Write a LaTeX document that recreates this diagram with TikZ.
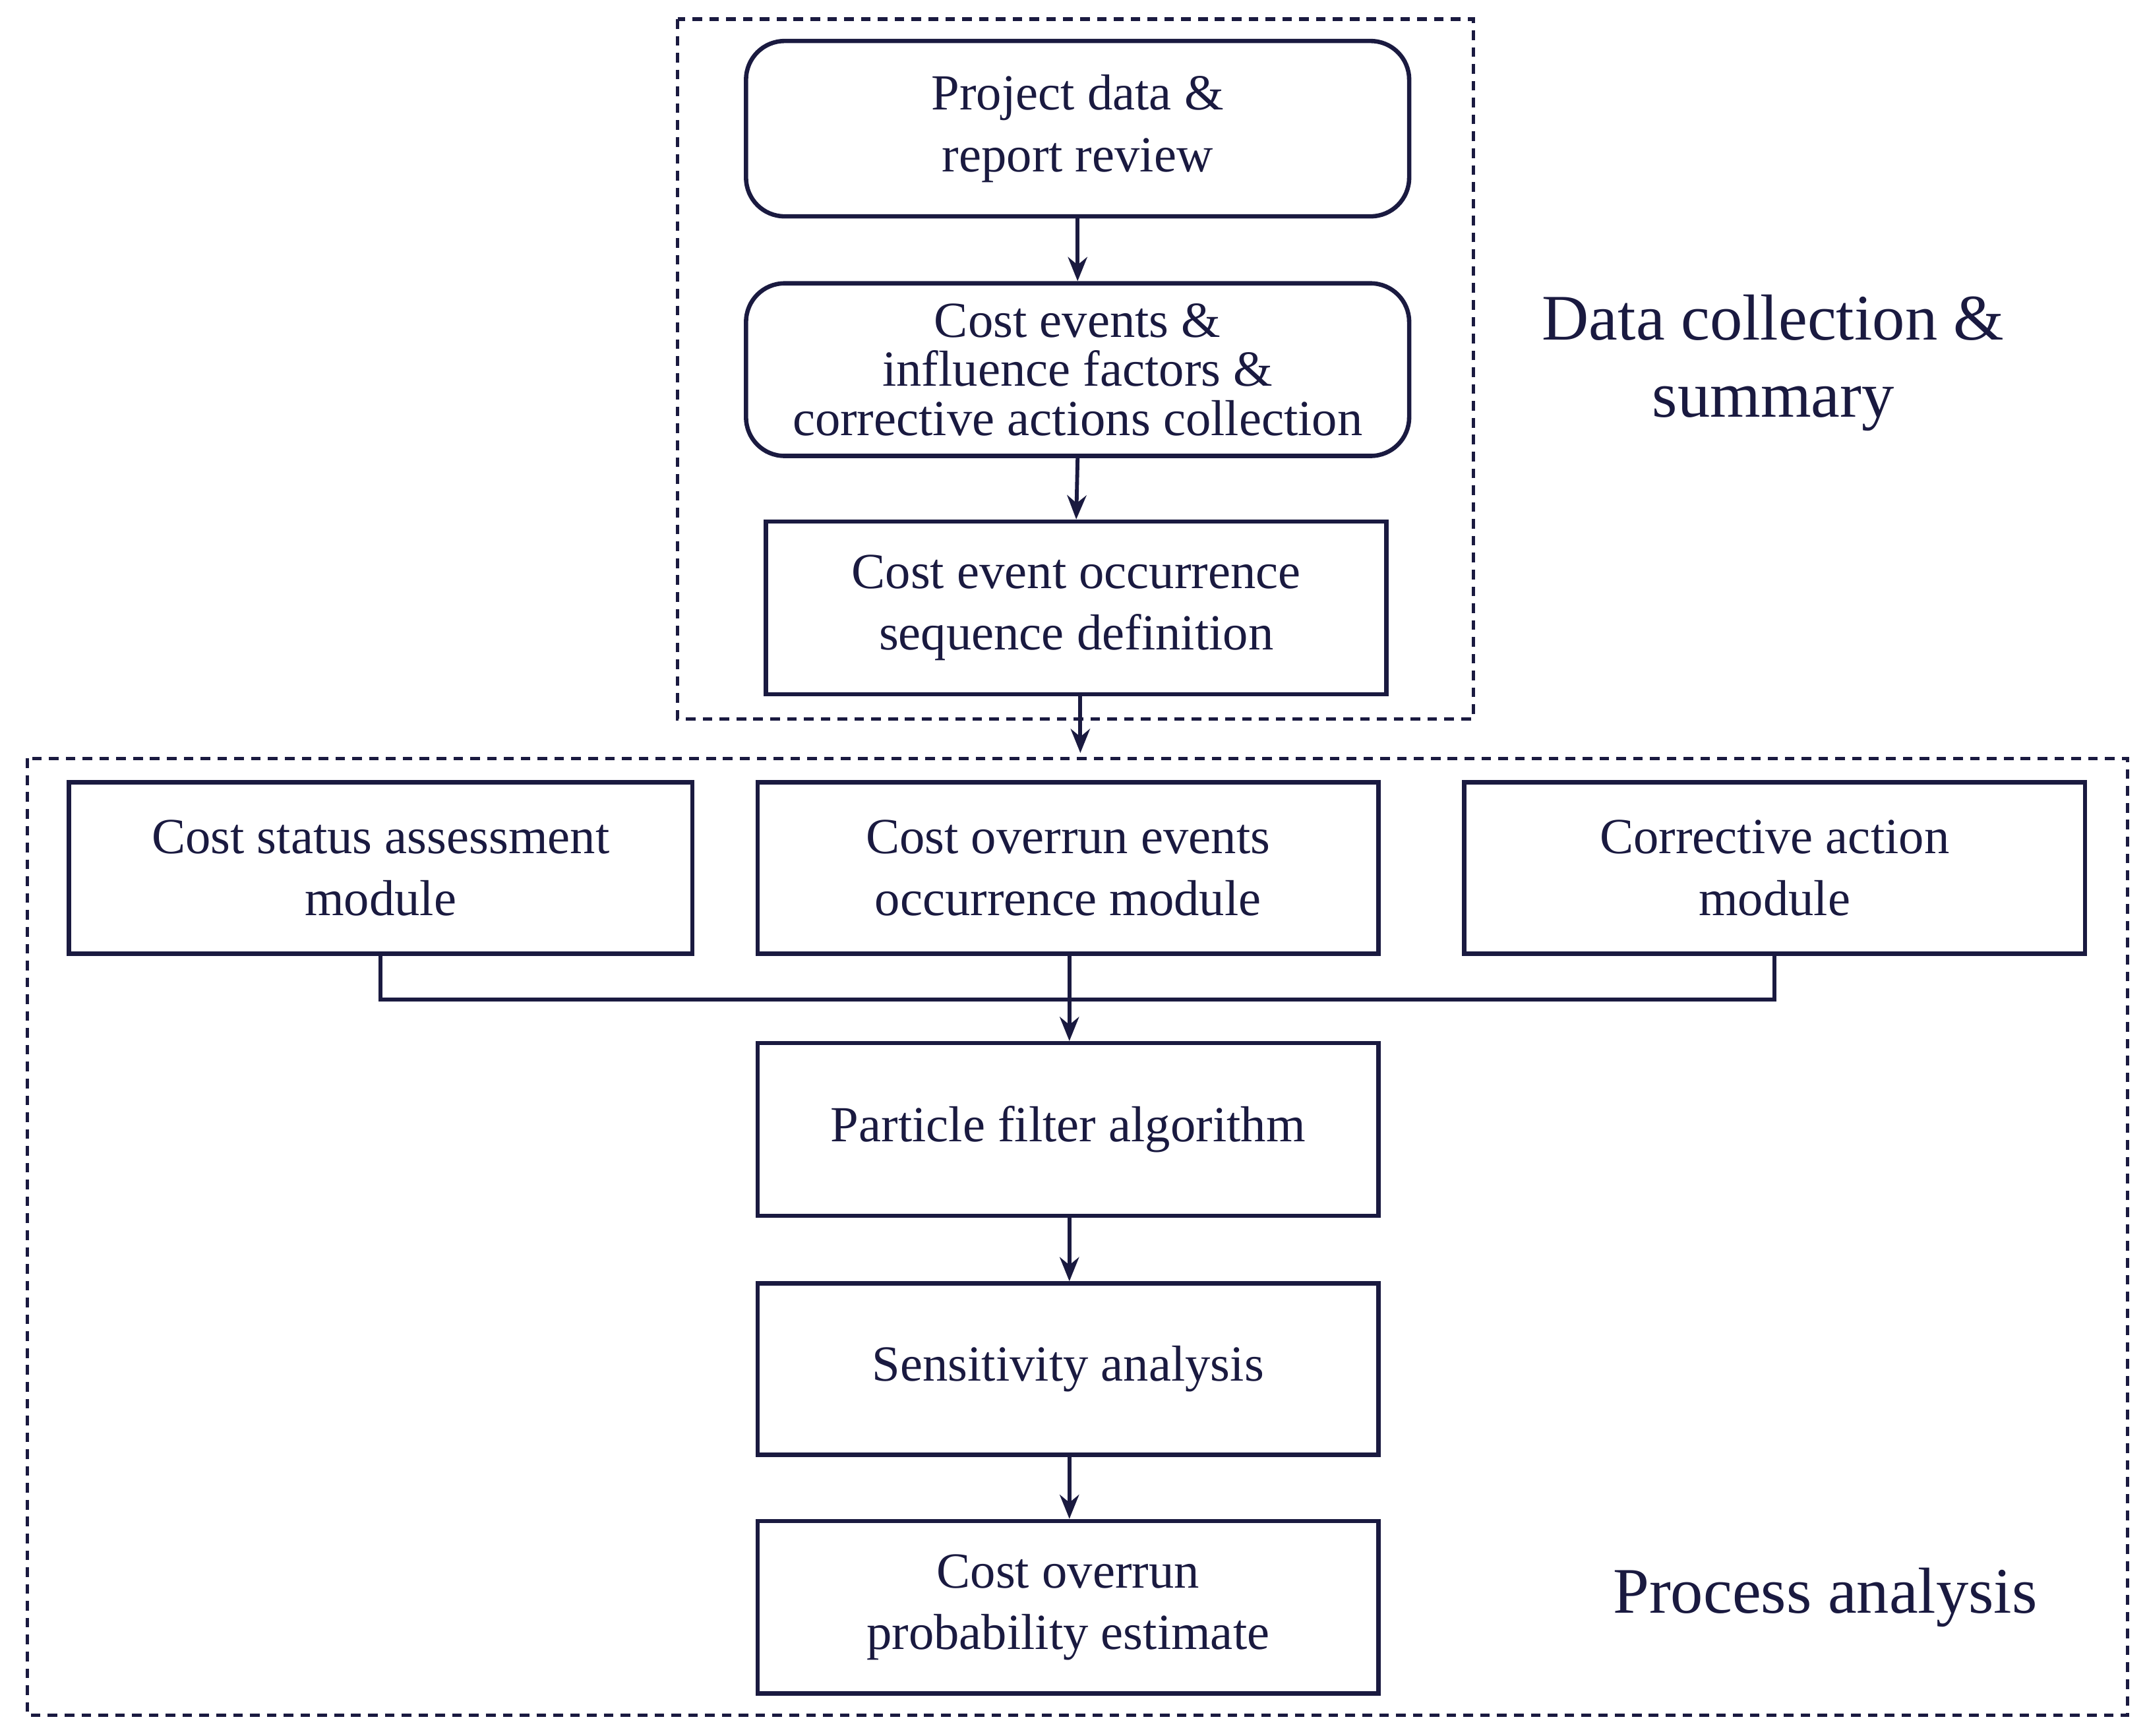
\documentclass[tikz,border=0pt]{standalone}
\usepackage{fontspec}
\setmainfont{Liberation Serif}
\usetikzlibrary{arrows.meta}
\definecolor{ink}{HTML}{1A1A40}
\begin{document}
\begin{tikzpicture}[x=0.01cm,y=-0.01cm,
  every node/.style={text=ink},
  box/.style={draw=ink,line width=0.9pt,align=center,font=\fontsize{10.5}{12.8}\selectfont,inner sep=0pt},
  arr/.style={draw=ink,line width=0.8pt,-{Stealth[length=5pt,width=4pt]}},
  dashbox/.style={draw=ink,line width=0.7pt,dash pattern=on 2pt off 1.5pt},
  lab/.style={font=\fontsize{13.5}{16}\selectfont,align=center}]
\useasboundingbox (0,0) rectangle (1568,1268);
\draw[dashbox] (495,14) rectangle (1076,525);
\draw[dashbox] (20,554) rectangle (1554,1253);
\node[box,rounded corners=8pt,minimum width=4.84cm,minimum height=1.28cm] (b1) at (787,94) {Project data \&\\report review};
\node[box,rounded corners=8pt,minimum width=4.84cm,minimum height=1.26cm,font=\fontsize{10.5}{10.2}\selectfont] (b2) at (787,270) {Cost events \&\\influence factors \&\\corrective actions collection};
\node[box,minimum width=4.53cm,minimum height=1.26cm] (b3) at (786,444) {Cost event occurrence\\sequence definition};
\node[box,minimum width=4.55cm,minimum height=1.25cm] (m1) at (278,634) {Cost status assessment\\module};
\node[box,minimum width=4.53cm,minimum height=1.25cm] (m2) at (780,634) {Cost overrun events\\occurrence module};
\node[box,minimum width=4.53cm,minimum height=1.25cm] (m3) at (1296,634) {Corrective action\\module};
\node[box,minimum width=4.53cm,minimum height=1.26cm] (p1) at (780,825) {Particle filter algorithm};
\node[box,minimum width=4.53cm,minimum height=1.25cm] (p2) at (780,1000) {Sensitivity analysis};
\node[box,minimum width=4.53cm,minimum height=1.26cm] (p3) at (780,1174) {Cost overrun\\probability estimate};
\coordinate (top2) at (789,550);
\coordinate (j) at (781,730);
\draw[arr] (b1.south) -- (b2.north);
\draw[arr] (b2.south) -- (b3.north);
\draw[arr] (789,507) -- (top2);
\draw[draw=ink,line width=0.8pt] (m1.south) |- (j) -| (m3.south);
\draw[draw=ink,line width=0.8pt] (m2.south -| j) -- (j);
\draw[arr] (j) -- (p1.north -| j);
\draw[arr] (p1.south -| j) -- (p2.north -| j);
\draw[arr] (p2.south -| j) -- (p3.north -| j);
\node[lab] (l1) at (1295,265) {Data collection \&\\summary};
\node[lab] (l2) at (1333,1167) {Process analysis};
\end{tikzpicture}
\end{document}
